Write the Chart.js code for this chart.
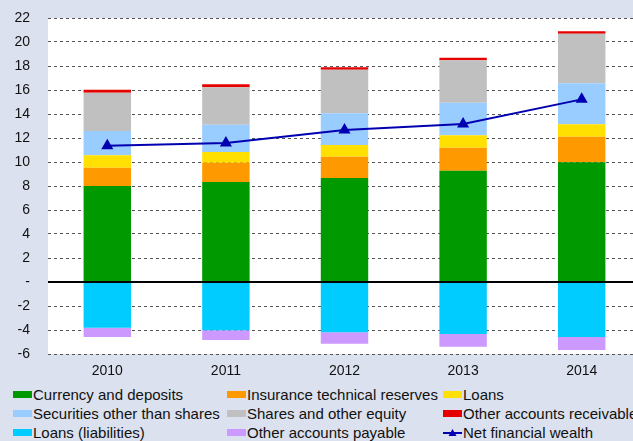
<!DOCTYPE html>
<html>
<head>
  <meta charset="UTF-8">
  <title>Household financial wealth</title>
  <script src="https://cdn.jsdelivr.net/npm/chart.js"></script>
  <style>
    body {
      margin: 0;
      background: #dbe1ee;
      font-family: "Liberation Sans", Arial, sans-serif;
      overflow: hidden;
    }
    #wrap {
      position: relative;
      width: 633px;
      height: 441px;
      overflow: hidden;
    }
    #chartBox {
      position: absolute;
      left: 0;
      top: 0;
      width: 648px;
      height: 384px;
    }
    #legend {
      position: absolute;
      left: 13px;
      top: 385px;
      width: 700px;
      display: grid;
      grid-template-columns: 214px 216px 270px;
      grid-auto-rows: 19px;
      font-size: 15px;
      color: #111;
    }
    .item {
      display: flex;
      align-items: center;
      white-space: nowrap;
    }
    .box {
      width: 19px;
      height: 7px;
      margin-right: 1px;
      flex: none;
    }
  </style>
</head>
<body>
  <div id="wrap">
    <div id="chartBox"><canvas id="wealthChart"></canvas></div>
    <div id="legend"></div>
  </div>

  <script>
    const years = ['2010', '2011', '2012', '2013', '2014'];

    const currency = [8.00, 8.33, 8.67, 9.28, 9.97];
    const insurance = [1.53, 1.61, 1.77, 1.91, 2.14];
    const loans = [1.03, 0.89, 0.98, 1.03, 1.03];
    const securities = [2.02, 2.28, 2.64, 2.72, 3.42];
    const shares = [3.20, 3.11, 3.63, 3.53, 4.13];
    const otherReceivable = [0.25, 0.25, 0.20, 0.22, 0.20];
    const loansLiab = [-3.81, -4.03, -4.19, -4.33, -4.58];
    const otherPayable = [-0.77, -0.80, -0.95, -1.06, -1.09];
    const netWealth = [11.36, 11.58, 12.67, 13.17, 15.22];

    const yMin = -6, yMax = 22, yStep = 2;

    function bar(label, data, color) {
      return {
        type: 'bar',
        label: label,
        data: data,
        backgroundColor: color,
        borderWidth: 0,
        barPercentage: 0.4,
        categoryPercentage: 1,
        stack: 'assets',
        order: 1
      };
    }

    // white plot area + solid zero line
    const plotBg = {
      id: 'plotBg',
      beforeDraw(chart) {
        const a = chart.chartArea, ctx = chart.ctx;
        ctx.save();
        ctx.fillStyle = '#ffffff';
        ctx.fillRect(a.left, a.top, a.right - a.left, a.bottom - a.top);
        ctx.restore();
      },
      afterDatasetsDraw(chart) {
        const a = chart.chartArea, ctx = chart.ctx;
        const y0 = chart.scales.y.getPixelForValue(0);
        ctx.save();
        ctx.strokeStyle = '#000000';
        ctx.lineWidth = 2;
        ctx.beginPath();
        ctx.moveTo(a.left, y0);
        ctx.lineTo(a.right, y0);
        ctx.stroke();
        ctx.restore();
      }
    };

    const chart = new Chart(document.getElementById('wealthChart'), {
      data: {
        labels: years,
        datasets: [
          bar('Currency and deposits', currency, '#009900'),
          bar('Insurance technical reserves', insurance, '#ff9900'),
          bar('Loans', loans, '#ffe000'),
          bar('Securities other than shares', securities, '#99ccff'),
          bar('Shares and other equity', shares, '#c0c0c0'),
          bar('Other accounts receivable', otherReceivable, '#e60000'),
          bar('Loans (liabilities)', loansLiab, '#00ccff'),
          bar('Other accounts payable', otherPayable, '#cc99ff'),
          {
            type: 'line',
            label: 'Net financial wealth',
            data: netWealth,
            borderColor: '#0000b0',
            backgroundColor: '#0000b0',
            borderWidth: 2,
            pointStyle: 'triangle',
            pointRadius: 5,
            pointHoverRadius: 5,
            tension: 0,
            stack: 'net',
            order: 0
          }
        ]
      },
      options: {
        responsive: true,
        maintainAspectRatio: false,
        animation: false,
        layout: { padding: { top: 18, right: 0, left: 0, bottom: 0 } },
        plugins: {
          legend: { display: false },
          tooltip: { enabled: false }
        },
        scales: {
          x: {
            stacked: true,
            grid: { display: false, drawTicks: false },
            border: { display: false },
            ticks: {
              color: '#111',
              padding: 9,
              font: { family: 'Liberation Sans', size: 14 }
            },
            afterFit(scale) {
              scale.height = 30;
              scale.paddingLeft = 0;
              scale.paddingRight = 0;
            }
          },
          y: {
            stacked: true,
            min: yMin,
            max: yMax,
            grid: {
              drawTicks: false,
              lineWidth: 1,
              color: ctx => ctx.tick && ctx.tick.value === 0 ? 'rgba(0,0,0,0)' : '#555555'
            },
            border: { display: false, dash: [3, 3] },
            ticks: {
              stepSize: yStep,
              color: '#111',
              padding: 18,
              font: { family: 'Liberation Sans', size: 14 },
              callback: v => v === 0 ? '-' : v
            },
            afterFit(scale) {
              scale.width = 48;
              scale.paddingTop = 0;
              scale.paddingBottom = 0;
            }
          }
        }
      },
      plugins: [plotBg]
    });

    // legend in a 3-column grid, built from the chart datasets
    const legend = document.getElementById('legend');
    chart.data.datasets.forEach(ds => {
      const item = document.createElement('div');
      item.className = 'item';
      let marker;
      if (ds.type === 'line') {
        marker = '<svg width="19" height="10" style="margin-right:1px;flex:none">' +
          '<line x1="0" y1="5" x2="19" y2="5" stroke="' + ds.borderColor + '" stroke-width="2"/>' +
          '<polygon points="9.5,1 13.5,8 5.5,8" fill="' + ds.borderColor + '"/></svg>';
      } else {
        marker = '<span class="box" style="background:' + ds.backgroundColor + '"></span>';
      }
      item.innerHTML = marker + '<span>' + ds.label + '</span>';
      legend.appendChild(item);
    });
  </script>
</body>
</html>
